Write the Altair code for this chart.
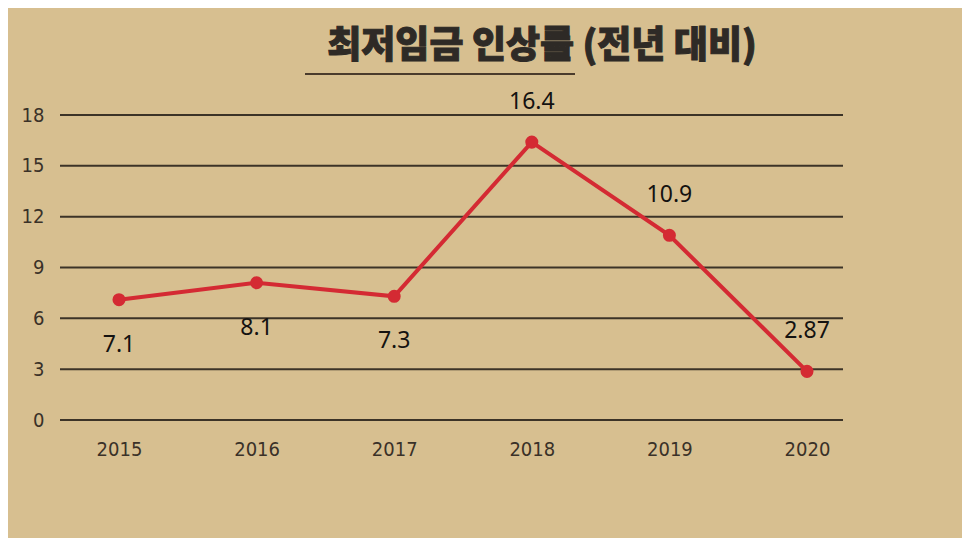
import altair as alt
import pandas as pd

years = ["2015", "2016", "2017", "2018", "2019", "2020"]
rates = [7.1, 8.1, 7.3, 16.4, 10.9, 2.87]
labels = ["7.1", "8.1", "7.3", "16.4", "10.9", "2.87"]
label_side = ["below", "below", "below", "above", "above", "above"]
y_ticks = [0, 3, 6, 9, 12, 15, 18]
title_text = "최저임금 인상률 (전년 대비)"

df = pd.DataFrame({"year": years, "rate": rates, "label": labels, "side": label_side})
grid_df = pd.DataFrame({"tick": y_ticks})

axis_font = "Liberation Sans Narrow, DejaVu Sans Condensed, Roboto Condensed, Roboto, sans-serif"

x = alt.X("year:N", sort=years, title=None,
          scale=alt.Scale(type="point", padding=0, range=[59, 747]),
          axis=alt.Axis(labelAngle=0, ticks=False, domain=False, grid=False,
                        labelFont=axis_font, labelFontSize=20, labelColor="#3a3128",
                        labelPadding=19))
y_scale = alt.Scale(domain=[0, 18], nice=False, zero=True)
y_axis = alt.Axis(values=y_ticks, ticks=False, domain=False, grid=False,
                  labelFont=axis_font, labelFontSize=20, labelColor="#3a3128",
                  labelPadding=16)
y = alt.Y("rate:Q", title=None, scale=y_scale, axis=y_axis)

base = alt.Chart(df)

grid = alt.Chart(grid_df).mark_rule(color="#2b241c", strokeWidth=2, opacity=0.9).encode(
    y=alt.Y("tick:Q", title=None, scale=y_scale, axis=y_axis),
    x=alt.value(0), x2=alt.value(783),
)

line = base.mark_line(color="#d42a33", strokeWidth=4).encode(x=x, y=y)
pts = base.mark_point(filled=True, color="#d42a33", size=170, opacity=1).encode(x=x, y=y)

below = base.transform_filter(alt.datum.side == "below").mark_text(
    font="Noto Sans", fontSize=23, color="#141210", dy=45
).encode(x=x, y=y, text="label:N")
above = base.transform_filter(alt.datum.side == "above").mark_text(
    font="Noto Sans", fontSize=23, color="#141210", dy=-40
).encode(x=x, y=y, text="label:N")

title = alt.Chart(pd.DataFrame({"t": [title_text]})).mark_text(
    font="Noto Sans CJK KR", fontWeight=900, fontSize=37, color="#2e2a26",
    stroke="#2e2a26", strokeWidth=1,
    align="center", baseline="middle"
).encode(x=alt.value(482), y=alt.value(-68), text="t:N")

underline = alt.Chart(pd.DataFrame({"t": [title_text]})).mark_rule(
    color="#4a3b2c", strokeWidth=2
).encode(x=alt.value(245), x2=alt.value(515), y=alt.value(-41))

chart = alt.layer(grid, line, pts, below, above, title, underline).resolve_scale(
    y="shared"
).properties(
    width=783, height=305,
    background="#d7bf90",
    padding={"left": 52, "top": 107, "right": 119, "bottom": 118},
    autosize=alt.AutoSizeParams(type="none"),
).configure_view(stroke=None)

chart.save("out.html", embed_options={"renderer": "svg", "actions": False})
